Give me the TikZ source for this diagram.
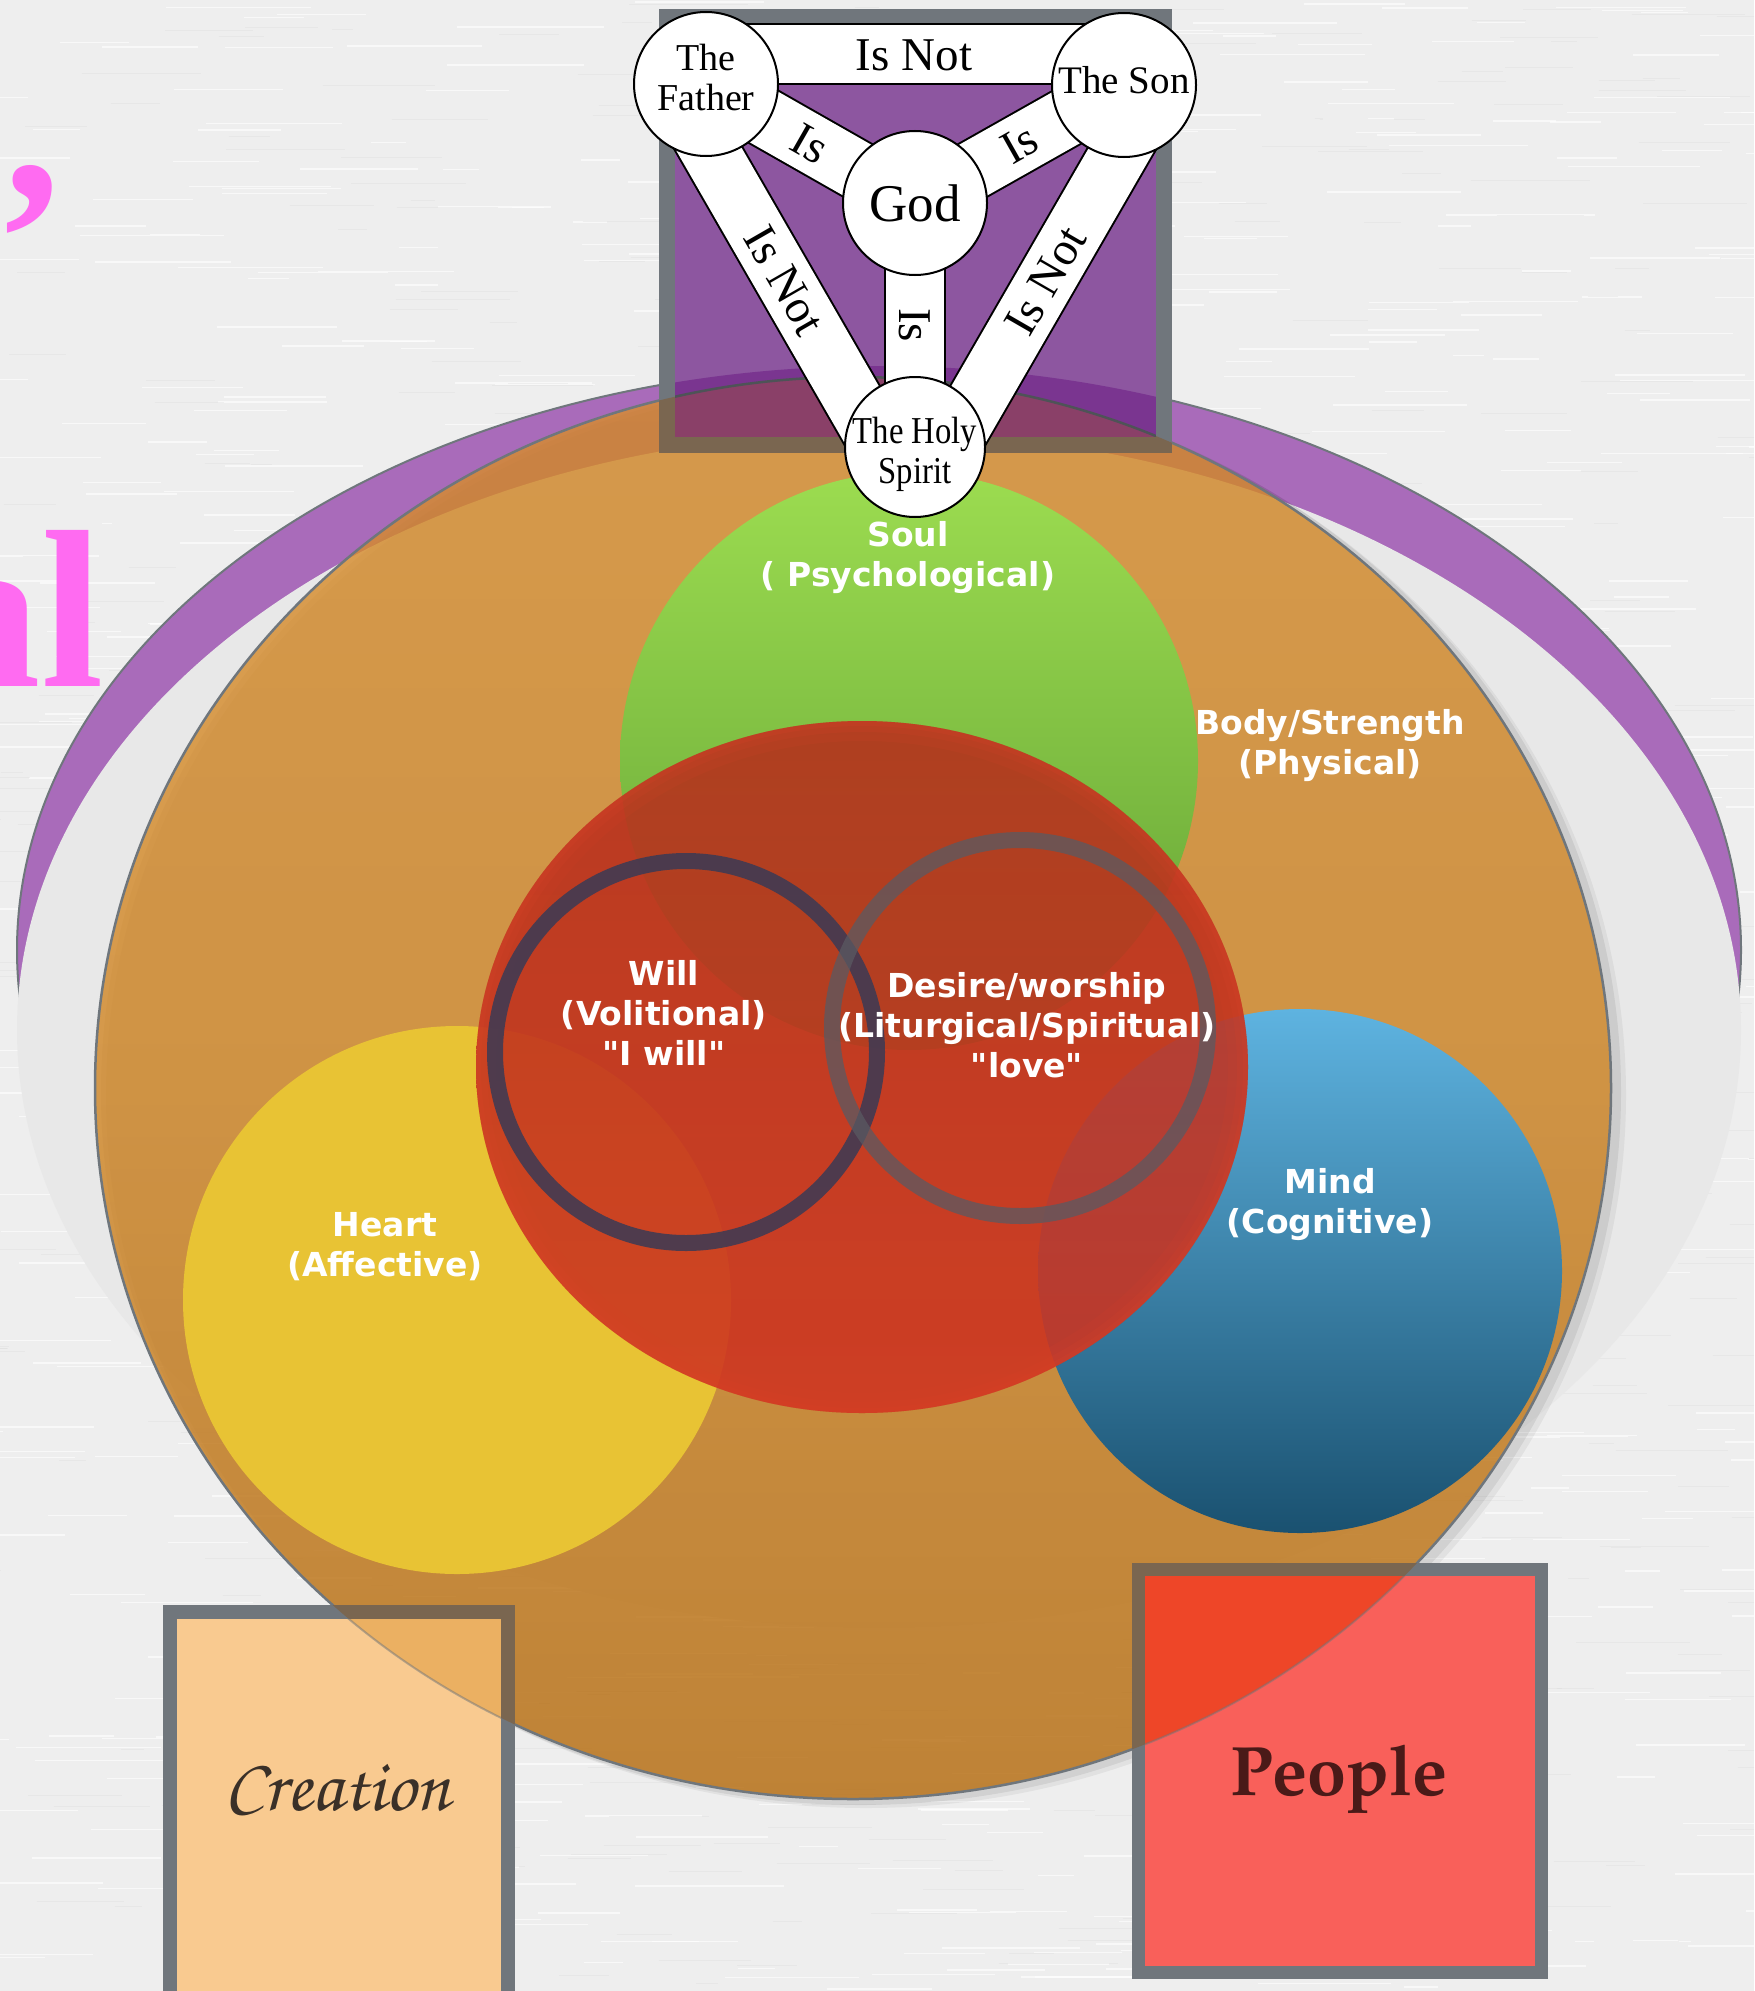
\documentclass[tikz,border=0pt]{standalone}
\usepackage[T1]{fontenc}
\usepackage{fontspec}
\usepackage{graphicx}
\newfontfamily\serifA{Liberation Serif}
\newfontfamily\sansA{DejaVu Sans}
\definecolor{bgc}{HTML}{EEEEEE}
\definecolor{grayell}{HTML}{E8E8E8}
\definecolor{purp}{HTML}{A96BBA}
\definecolor{edgegray}{HTML}{6F767C}
\definecolor{orangeT}{HTML}{D88D2C}
\definecolor{orangeM}{HTML}{D08523}
\definecolor{orangeB}{HTML}{BA6F10}
\definecolor{greenT}{HTML}{9CDC50}
\definecolor{greenB}{HTML}{62A035}
\definecolor{yellowc}{HTML}{E8C334}
\definecolor{blueT}{HTML}{5EB3E0}
\definecolor{blueB}{HTML}{1A5170}
\definecolor{redT}{HTML}{B52E1C}
\definecolor{redB}{HTML}{CF3421}
\definecolor{redRim}{HTML}{DC4329}
\definecolor{willc}{HTML}{3A3A55}
\definecolor{desc}{HTML}{5A5A62}
\definecolor{shieldp}{HTML}{8D56A0}
\definecolor{shieldp2}{HTML}{7A3590}
\definecolor{shieldp3}{HTML}{8A4068}
\definecolor{bordg}{HTML}{70767C}
\definecolor{bordg2}{HTML}{7A6650}
\definecolor{peach}{HTML}{F9CA90}
\definecolor{peach2}{HTML}{EBB062}
\definecolor{salmon}{HTML}{F9605A}
\definecolor{salmon2}{HTML}{EE4628}
\definecolor{pinkt}{HTML}{FF6BF1}
\definecolor{creatc}{HTML}{3A3028}
\definecolor{peoplec}{HTML}{4A1A18}
\pgfdeclareverticalshading{orsh}{100bp}{color(0bp)=(orangeB); color(25bp)=(orangeB); color(50bp)=(orangeM); color(75bp)=(orangeT); color(100bp)=(orangeT)}
\tikzset{
  lbl/.style={text=white, align=center, inner sep=0pt,
    font=\sansA\bfseries\fontsize{33}{40}\selectfont},
  tcirc/.style={circle, draw=black, line width=2pt, fill=white, inner sep=0pt,
    minimum size=144pt},
  ctxt/.style={inner sep=0pt, align=center, font=\serifA\fontsize{38}{40}\selectfont},
  band/.style={line width=2pt, draw=black, double=white, double distance=58pt},
  bandtxt/.style={inner sep=0pt, font=\serifA\fontsize{47}{50}\selectfont},
  pinktxt/.style={inner sep=0pt, text=pinkt, font=\serifA\bfseries\fontsize{225}{230}\selectfont},
}
\begin{document}
\begin{tikzpicture}[x=1pt,y=-1pt]
\useasboundingbox (0,0) rectangle (1754,1991);
\clip (0,0) rectangle (1754,1991);
\fill[bgc] (0,0) rectangle (1754,1991);
% paper texture
\pgfmathsetseed{7}
\foreach \i in {1,...,900}{
  \pgfmathsetmacro\xx{rnd*1800-50}
  \pgfmathsetmacro\yy{rnd*1991}
  \pgfmathsetmacro\ll{rnd*120+30}
  \draw[white, line width=1.4pt, opacity=0.6] (\xx,\yy) -- ++(\ll,0);
}
\foreach \i in {1,...,600}{
  \pgfmathsetmacro\xx{rnd*1800-50}
  \pgfmathsetmacro\yy{rnd*1991}
  \pgfmathsetmacro\ll{rnd*100+20}
  \draw[black!15, line width=1pt, opacity=0.3] (\xx,\yy) -- ++(\ll,0);
}

% pink title fragments cut by the left edge
\node[pinktxt, anchor=base east] (titleA) at (104,686) {al};
\node[pinktxt, anchor=base west] (titleB) at (4,198) {,};

% purple crescent and grey ellipse
\draw[fill=purp, draw=edgegray, line width=2pt] (879,950) ellipse [x radius=862, y radius=584];
\fill[grayell] (879,1030) ellipse [x radius=862, y radius=598];

% shadow + orange body ellipse
\fill[black, opacity=0.07] (861,1092) ellipse [x radius=760, y radius=713];
\fill[black, opacity=0.05] (866,1095) ellipse [x radius=760, y radius=713];
\shade[shading=orsh, fill opacity=0.8] (853,1088) ellipse [x radius=758, y radius=711];
\draw[edgegray, line width=2.5pt] (853,1088) ellipse [x radius=758, y radius=711];

% soul, heart, mind
\shade[top color=greenT, bottom color=greenB] (909,761) circle (289);
\fill[yellowc] (457,1300) circle (274);
\shade[top color=blueT, bottom color=blueB] (1300,1271) circle (262);

% will/desire (red) with a soft lighter rim
\shade[top color=redT, bottom color=redB, fill opacity=0.88] (862,1067) ellipse [x radius=386, y radius=346];
\begin{scope}
  \clip (862,1067) ellipse [x radius=386, y radius=346];
  \draw[redRim, draw opacity=0.12, line width=40pt] (862,1067) ellipse [x radius=386, y radius=346];
  \draw[redRim, draw opacity=0.15, line width=22pt] (862,1067) ellipse [x radius=386, y radius=346];
  \draw[redRim, draw opacity=0.18, line width=10pt] (862,1067) ellipse [x radius=386, y radius=346];
\end{scope}

% rings
\draw[willc, draw opacity=0.85, line width=16pt] (686,1052) circle (191);
\draw[desc, draw opacity=0.75, line width=16pt] (1020,1028) circle (188);

% labels
\node[lbl] (soulL) at (908,558) {Soul\\( Psychological)};
\node[lbl] (bodyL) at (1330,746) {Body/Strength\\(Physical)};
\node[lbl] (willL) at (664,1013) {Will\\(Volitional)\\"I will"};
\node[lbl] (desL) at (1027,1025) {Desire/worship\\(Liturgical/Spiritual)\\"love"};
\node[lbl] (heartL) at (385,1247) {Heart\\(Affective)};
\node[lbl] (mindL) at (1330,1205) {Mind\\(Cognitive)};

% ---- shield of the trinity ----
\fill[shieldp] (675,25) rectangle (1156,437);
\begin{scope}
  \clip (675,25) rectangle (1156,437);
  \fill[shieldp2] (879,950) ellipse [x radius=862, y radius=584];
  \fill[shieldp3] (853,1088) ellipse [x radius=758, y radius=711];
  \draw[edgegray!70!black, line width=2.5pt] (853,1088) ellipse [x radius=758, y radius=711];
\end{scope}
\draw[bordg, line width=16pt] (667,17) rectangle (1164,445);
\begin{scope}
  \clip (853,1088) ellipse [x radius=758, y radius=711];
  \draw[bordg2, line width=16pt] (667,17) rectangle (1164,445);
\end{scope}

\coordinate (cF) at (706,84);
\coordinate (cS) at (1124,85);
\coordinate (cG) at (915,203);
\coordinate (cH) at (915,447);
\coordinate (fsA) at (706,54);
\coordinate (fsB) at (1124,54);
\coordinate (fhA) at (680,99);
\coordinate (fhB) at (889,462);
\coordinate (shA) at (1150,100);
\coordinate (shB) at (941,462);

\draw[band] (fsA) -- (fsB);
\draw[band] (fhA) -- (fhB);
\draw[band] (shA) -- (shB);
\draw[band] (cF) -- (cG);
\draw[band] (cS) -- (cG);
\draw[band] (cG) -- (cH);

\node[bandtxt] (tFS) at (914,55) {Is Not};
\node[bandtxt, rotate=-60.07] (tFH) at (784.5,280.5) {Is Not};
\node[bandtxt, rotate=60.0] (tSH) at (1045.5,281) {Is Not};
\node[bandtxt, rotate=-29.7] (tFG) at (810,143.5) {Is};
\node[bandtxt, rotate=29.4] (tSG) at (1019.5,144) {Is};
\node[bandtxt, rotate=-90] (tGH) at (915,325) {Is};

\node[tcirc] (F) at (cF) {};
\node[tcirc] (S) at (cS) {};
\node[tcirc] (G) at (cG) {};
\node[tcirc, minimum size=140pt] (H) at (cH) {};
\node[ctxt] (Ftxt) at (706,78) {The\\Father};
\node[ctxt, font=\serifA\fontsize{39}{40}\selectfont] (Stxt) at (1124,80) {The Son};
\node[ctxt, font=\serifA\fontsize{53}{56}\selectfont] (Gtxt) at (915,203) {God};
\node[ctxt] (Htxt) at (915,454) {\scalebox{0.86}[1]{The Holy}\\\scalebox{0.86}[1]{Spirit}};

% ---- Creation box ----
\fill[peach] (177,1619) rectangle (501,2000);
\begin{scope}
  \clip (177,1619) rectangle (501,2000);
  \fill[peach2] (853,1088) ellipse [x radius=758, y radius=711];
  \draw[edgegray, opacity=0.5, line width=2pt] (853,1088) ellipse [x radius=758, y radius=711];
\end{scope}
\draw[bordg, line width=14pt] (170,1612) rectangle (508,1998);
\begin{scope}
  \clip (853,1088) ellipse [x radius=758, y radius=711];
  \draw[bordg2, line width=14pt] (170,1612) rectangle (508,1998);
\end{scope}
\node[inner sep=0pt, anchor=base, text=creatc,
  font=\fontencoding{T1}\fontfamily{pzc}\fontseries{mb}\fontshape{it}\fontsize{75}{78}\selectfont]
  (creation) at (337,1810) {Creation};

% ---- People box ----
\fill[salmon] (1144,1576) rectangle (1535,1966);
\begin{scope}
  \clip (1144,1576) rectangle (1535,1966);
  \fill[salmon2] (853,1088) ellipse [x radius=758, y radius=711];
  \draw[edgegray, opacity=0.5, line width=2pt] (853,1088) ellipse [x radius=758, y radius=711];
\end{scope}
\draw[bordg, line width=13pt] (1138,1569.5) rectangle (1541.5,1972.5);
\begin{scope}
  \clip (853,1088) ellipse [x radius=758, y radius=711];
  \draw[bordg2, line width=13pt] (1138,1569.5) rectangle (1541.5,1972.5);
\end{scope}
\node[inner sep=0pt, text=peoplec,
  font=\fontencoding{T1}\fontfamily{ppl}\fontseries{b}\fontshape{n}\fontsize{70}{72}\selectfont]
  (people) at (1339,1779) {People};
\end{tikzpicture}
\end{document}
